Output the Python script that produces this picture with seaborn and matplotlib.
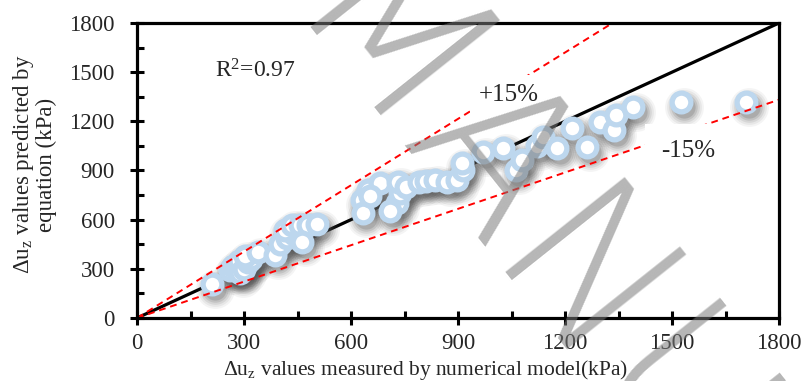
import matplotlib
matplotlib.use("Agg")
import matplotlib.pyplot as plt
import matplotlib.transforms as mtransforms
from matplotlib import font_manager
import numpy as np
import pandas as pd
import seaborn as sns

# ---- data ----
measured = [210, 260, 270, 280, 285, 290, 300, 310, 320, 303, 340, 387, 400, 420, 440,
            415, 435, 457, 479, 462, 505, 630, 648, 634, 681, 653, 728, 737, 709, 732,
            753, 792, 810, 835, 869, 897, 914, 911, 970, 1026, 1062, 1080, 1121, 1138,
            1177, 1220, 1263, 1298, 1337, 1342, 1390, 1525, 1707]
predicted = [210, 290, 320, 300, 350, 275, 300, 340, 360, 380, 400, 384, 450, 490, 510,
             537, 567, 567, 567, 464, 575, 720, 781, 640, 823, 745, 701, 762, 650, 830,
             800, 832, 835, 842, 832, 842, 903, 945, 1010, 1040, 905, 965, 1050, 1106,
             1040, 1157, 1045, 1195, 1150, 1240, 1287, 1315, 1318]
x_ticks = [0, 300, 600, 900, 1200, 1500, 1800]
y_ticks = [0, 300, 600, 900, 1200, 1500, 1800]
upper_slope = 1.35   # "+15%" line
lower_slope = 0.74   # "-15%" line
r2_text = "R$^2$=0.97"

df = pd.DataFrame({"measured": measured, "predicted": predicted})

sns.set_theme(style="white")
plt.rcParams["font.family"] = "serif"
plt.rcParams["font.serif"] = ["Liberation Serif", "Times New Roman", "DejaVu Serif"]
plt.rcParams["mathtext.fontset"] = "custom"
plt.rcParams["mathtext.rm"] = "Liberation Serif"
plt.rcParams["mathtext.it"] = "Liberation Serif:italic"


def _w(f):
    w = f.weight
    if isinstance(w, int):
        return w
    return {"thin": 100, "hairline": 100, "extralight": 200, "ultralight": 200,
            "light": 300}.get(str(w).lower(), 400)


# choose a light sans face for the watermark
thin_font = None
best = None
for f in font_manager.fontManager.ttflist:
    if f.style != "normal":
        continue
    w = _w(f)
    if w >= 400:
        continue
    if f.name == "DejaVu Sans":
        score = (0, abs(w - 200))
    elif f.name in ("Open Sans", "Roboto", "Lato", "Noto Sans", "Inter"):
        score = (1, abs(w - 300))
    else:
        continue
    if best is None or score < best:
        best, thin_font = score, f

fig = plt.figure(figsize=(8.06, 3.81), dpi=100)
ax = fig.add_axes([0.170, 0.1654, 0.7965, 0.7742])
ax.set_xlim(0, 1800)
ax.set_ylim(0, 1800)

# reference lines
xl = np.array([0, 1800])
ax.plot(xl, xl, color="black", lw=2.3, zorder=2, solid_capstyle="butt")
ax.plot(xl, upper_slope * xl, color="#ff0000", lw=1.4, ls=(0, (3.5, 2.5)), zorder=5)
ax.plot(xl, lower_slope * xl, color="#ff0000", lw=1.4, ls=(0, (3.5, 2.5)), zorder=5)

# soft shadow beneath points
shadow_tr = mtransforms.offset_copy(ax.transData, fig=fig, x=3, y=-5, units="dots")
for d, a in [(28, 0.06), (25, 0.08), (22, 0.11), (19, 0.15), (16, 0.2)]:
    ax.scatter(df["measured"], df["predicted"], s=d ** 2, color="#505050",
               alpha=a, linewidths=0, transform=shadow_tr, zorder=2.5)

sns.scatterplot(data=df, x="measured", y="predicted", ax=ax, s=13.5 ** 2,
                facecolor="white", edgecolor="#bdd7ee", linewidth=3.8,
                zorder=4, legend=False)

# annotations
ax.text(219, 1510, r2_text, fontsize=17, ha="left", va="center", zorder=6)
ax.text(1043, 1361, "+15%", fontsize=18, ha="center", va="center", zorder=6,
        bbox=dict(boxstyle="square,pad=0.35", fc="white", ec="none"))
ax.text(1545, 1019, "-15%", fontsize=18, ha="center", va="center", zorder=6,
        bbox=dict(boxstyle="square,pad=0.65", fc="white", ec="none"))

# axes styling
ax.set_xticks(x_ticks)
ax.set_yticks(y_ticks)
ax.set_xticks(np.arange(150, 1800, 300), minor=True)
ax.set_yticks(np.arange(150, 1800, 300), minor=True)
ax.tick_params(which="major", direction="inout", length=10, width=2.2,
               labelsize=16.5, color="black", bottom=True, left=True)
ax.tick_params(axis="x", which="major", pad=6)
ax.tick_params(axis="y", which="major", pad=11)
ax.tick_params(which="minor", direction="in", length=5, width=2.2,
               color="black", bottom=True, left=True)
for s in ax.spines.values():
    s.set_color("black")
    s.set_linewidth(2.3)
    s.set_zorder(7)

ax.set_xlabel(r"Δu$_\mathrm{z}$ values measured by numerical model(kPa)", fontsize=15.5)
ax.set_ylabel("Δu$_\\mathrm{z}$ values predicted by\nequation (kPa)", fontsize=16.5,
              linespacing=1.0)
ax.xaxis.set_label_coords(0.449, -0.134)
ax.yaxis.set_label_coords(-0.125, 0.52)
ax.grid(False)

# watermark (partly beyond the canvas, as in the reference)
wm_kw = dict(rotation=-51.5, rotation_mode="anchor", ha="left", va="baseline",
             color="#7a7a7a", alpha=0.55, zorder=10)
if thin_font is not None:
    wm_kw["fontproperties"] = font_manager.FontProperties(fname=thin_font.fname, size=150)
else:
    wm_kw["family"] = "DejaVu Sans"
    wm_kw["fontsize"] = 150
fig.text(276 / 806, 1 - 26 / 381, "MANU", **wm_kw)

fig.savefig("out.png", dpi=100)
